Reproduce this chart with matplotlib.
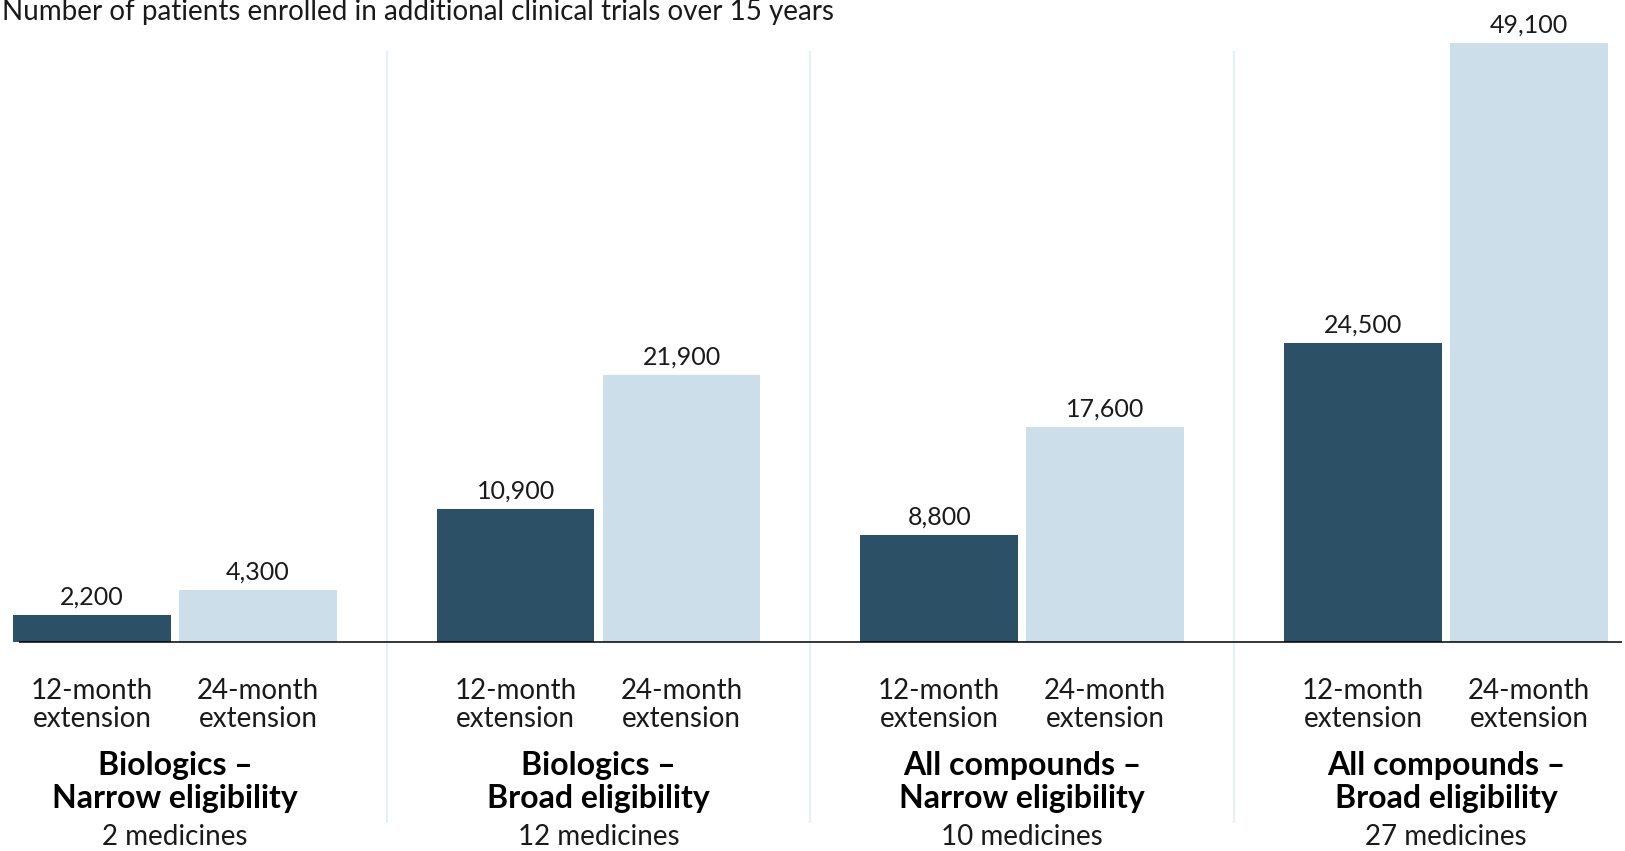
import matplotlib
matplotlib.use("Agg")
import matplotlib.pyplot as plt

# ---- data ----
groups = ["Biologics –\nNarrow eligibility", "Biologics –\nBroad eligibility",
          "All compounds –\nNarrow eligibility", "All compounds –\nBroad eligibility"]
medicines = ["2 medicines", "12 medicines", "10 medicines", "27 medicines"]
ext_labels = ["12-month\nextension", "24-month\nextension"]
v12 = [2200, 10900, 8800, 24500]
v24 = [4300, 21900, 17600, 49100]
title = "Number of patients enrolled in additional clinical trials over 15 years"

DARK = "#2C5066"
LIGHT = "#CCDEEA"
SEP = "#E6EFF3"
FONT = ["Lato", "DejaVu Sans"]

W, H = 1625, 851
fig = plt.figure(figsize=(W / 100, H / 100), dpi=100)
ax = fig.add_axes([0, 0, 1, 1])
ax.set_axis_off()

px_per_unit = 0.0122
base_px = 642
ax.set_ylim(-(H - base_px) / px_per_unit, base_px / px_per_unit)
step_px = 166
x0_px = 92
ax.set_xlim(-x0_px / step_px, (W - x0_px) / step_px)

gstep = 2.552
xs12 = [g * gstep for g in range(len(groups))]
xs24 = [g * gstep + 1 for g in range(len(groups))]

ax.bar(xs12, v12, width=0.95, color=DARK, zorder=2)
ax.bar(xs24, v24, width=0.95, color=LIGHT, zorder=2)

def ypx(p):
    return 1 - p / H

tr = ax.get_xaxis_transform()  # x data, y axes fraction

for xs, vals in ((xs12, v12), (xs24, v24)):
    for x, v in zip(xs, vals):
        ax.annotate(f"{v:,}", (x, v), xytext=(0, 7.5), textcoords="offset points",
                    ha="center", va="baseline", fontsize=18, color="#1a1a1a",
                    family=FONT)

# baseline
ax.plot([(19 - x0_px) / step_px, (1622 - x0_px) / step_px], [0, 0],
        color="black", lw=1.1, zorder=3, solid_capstyle="butt")

# separators
for g in range(len(groups) - 1):
    xm = g * gstep + 1 + (gstep - 1) / 2
    ax.plot([xm, xm], [ypx(822), ypx(52)], transform=tr, color=SEP, lw=1.5, zorder=1)

# labels
for g in range(len(groups)):
    for x, lab in ((xs12[g], ext_labels[0]), (xs24[g], ext_labels[1])):
        l1, l2 = lab.split("\n")
        ax.text(x, ypx(699), l1, transform=tr, ha="center", va="baseline",
                fontsize=20, color="#1a1a1a", family=FONT)
        ax.text(x, ypx(727), l2, transform=tr, ha="center", va="baseline",
                fontsize=20, color="#1a1a1a", family=FONT)
    xc = (xs12[g] + xs24[g]) / 2
    b1, b2 = groups[g].split("\n")
    ax.text(xc, ypx(775), b1, transform=tr, ha="center", va="baseline",
            fontsize=23, fontweight="bold", color="black", family=FONT)
    ax.text(xc, ypx(808), b2, transform=tr, ha="center", va="baseline",
            fontsize=23, fontweight="bold", color="black", family=FONT)
    ax.text(xc, ypx(845), medicines[g], transform=tr, ha="center", va="baseline",
            fontsize=20, color="#1a1a1a", family=FONT)

fig.text(834 / W, 1 - 20 / H, title, ha="right", va="baseline",
         fontsize=20, color="#1a1a1a", family=FONT)

fig.savefig("out.png", dpi=100, facecolor="white")
